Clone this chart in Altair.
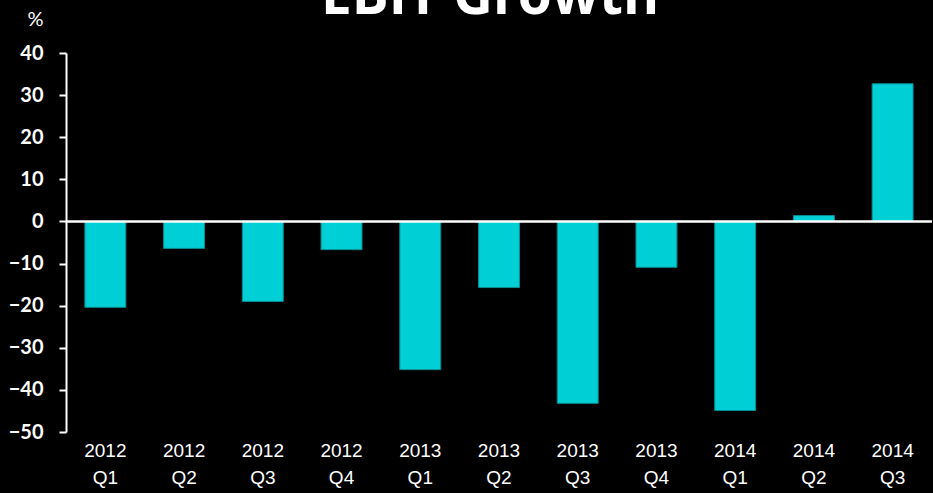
import altair as alt
import pandas as pd

categories = ["2012 Q1", "2012 Q2", "2012 Q3", "2012 Q4", "2013 Q1", "2013 Q2",
              "2013 Q3", "2013 Q4", "2014 Q1", "2014 Q2", "2014 Q3"]
values = [-20.4, -6.4, -19.0, -6.7, -35.2, -15.7, -43.2, -10.9, -44.9, 1.4, 32.7]
y_ticks = [-50, -40, -30, -20, -10, 0, 10, 20, 30, 40]
title_text = ["EBIT Growth"]

df = pd.DataFrame({"period": categories, "growth": values})

x_enc = alt.X("period:N", sort=categories,
              scale=alt.Scale(paddingInner=0.48, paddingOuter=0.24),
              axis=alt.Axis(title=None, labelAngle=0, domain=False, ticks=False,
                            labelExpr="split(datum.label, ' ')",
                            labelFont="Liberation Sans", labelFontSize=19,
                            labelColor="white", labelPadding=9, labelLineHeight=27))
y_scale = alt.Scale(domain=[-50, 40], nice=False, zero=False)

bars = alt.Chart(df).mark_bar(color="#00CFD5", stroke="#078C90", strokeWidth=1).encode(
    x=x_enc,
    y=alt.Y("growth:Q", scale=y_scale,
            axis=alt.Axis(values=y_ticks, grid=False, title="%", titleAngle=0,
                          titleX=-31, titleY=-28, titleAlign="center",
                          titleBaseline="alphabetic", titleFont="Lato",
                          titleFontWeight="normal", titleFontSize=20,
                          titleColor="white",
                          domainColor="white", domainWidth=2,
                          tickColor="white", tickWidth=2, tickSize=7,
                          labelFont="Lato", labelFontWeight="bold",
                          labelFontSize=20, labelColor="white", labelPadding=16)),
    y2=alt.datum(0),
)

zero = alt.Chart(pd.DataFrame({"v": [0]})).mark_rule(color="white", strokeWidth=2.5).encode(
    y=alt.Y("v:Q", scale=y_scale), x=alt.value(0), x2=alt.value(866)
)

title = alt.Chart(pd.DataFrame({"t": title_text})).mark_text(
    color="white", font="Open Sans", fontWeight="bold", fontSize=55,
    align="center", baseline="alphabetic"
).encode(text="t:N", x=alt.value(424), y=alt.value(-39))

chart = alt.layer(bars, zero, title).properties(
    width=866, height=379,
    background="black",
    padding={"left": 66, "top": 53, "right": 1, "bottom": 61},
    autosize=alt.AutoSizeParams(type="none"),
).configure_view(stroke=None)

chart.save("out.html", embed_options={"renderer": "svg", "actions": False})
